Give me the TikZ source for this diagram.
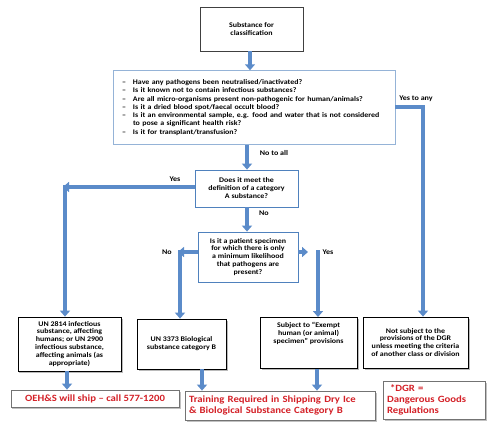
\documentclass[tikz,border=0pt]{standalone}
\usepackage{fontspec}
\setmainfont[FakeStretch=1.12]{Carlito}
\usetikzlibrary{arrows.meta,shadows}
\definecolor{arrowblue}{HTML}{5B8BC9}
\definecolor{lightbord}{HTML}{95B3D7}
\definecolor{midbord}{HTML}{4F81BD}
\definecolor{redtxt}{HTML}{D42027}
\definecolor{darkbord}{HTML}{404040}
\begin{document}
\begin{tikzpicture}[x=1bp,y=-1bp,
  box/.style={draw=darkbord, line width=0.8bp, fill=white, align=center, inner sep=1bp,
    font=\fontsize{7.1}{8}\selectfont\bfseries},
  bluebox/.style={box, draw=midbord},
  shbox/.style={box, draw=black, drop shadow={shadow xshift=1.5bp, shadow yshift=-1.5bp, fill=black!45, opacity=0.6}},
  redbox/.style={draw=black!55, line width=0.8bp, fill=white, align=left, inner sep=3bp,
    text=redtxt, font=\fontsize{9.6}{11}\selectfont\bfseries,
    drop shadow={shadow xshift=1.5bp, shadow yshift=-1.5bp, fill=black!40, opacity=0.6}},
  conn/.style={draw=arrowblue, line width=4bp, -{Triangle[width=10bp,length=6bp]}},
  lbl/.style={font=\fontsize{7.2}{8}\selectfont\bfseries, inner sep=0pt}
]
\useasboundingbox (0,0) rectangle (504,432);
\fill[white] (0,0) rectangle (504,432);

% boxes
\node[box, minimum width=103bp, minimum height=44bp] (top) at (251.5,29) {Substance for\\classification};
\node[box, draw=lightbord, minimum width=282bp, minimum height=71bp, text width=264bp, inner sep=9bp, align=left,
  font=\fontsize{7.1}{8.3}\selectfont\bfseries] (list) at (254,107.5)
  {\makebox[11bp][l]{–}Have any pathogens been neutralised/inactivated?\\
   \makebox[11bp][l]{–}Is it known not to contain infectious substances?\\
   \makebox[11bp][l]{–}Are all micro-organisms present non-pathogenic for human/animals?\\
   \makebox[11bp][l]{–}Is it a dried blood spot/faecal occult blood?\\
   \makebox[11bp][l]{–}Is it an environmental sample, e.g. food and water that is not considered\\
   \hspace*{11bp}to pose a significant health risk?\\
   \makebox[11bp][l]{–}Is it for transplant/transfusion?};
\node[bluebox, minimum width=103bp, minimum height=37bp] (catA) at (246.5,188.5)
  {Does it meet the\\definition of a category\\A substance?};
\node[bluebox, minimum width=100bp, minimum height=50bp] (pat) at (248,257)
  {Is it a patient specimen\\for which there is only\\a minimum likelihood\\that pathogens are\\present?};
\node[shbox, minimum width=103bp, minimum height=54bp] (un2814) at (69.5,344)
  {UN 2814 infectious\\substance, affecting\\humans; or UN 2900\\infectious substance,\\affecting animals (as\\appropriate)};
\node[shbox, minimum width=89bp, minimum height=50bp] (un3373) at (181.5,344)
  {UN 3373 Biological\\substance category B};
\node[shbox, minimum width=97bp, minimum height=51bp, anchor=north] (subj) at (308.5,317)
  {\rule{0pt}{8bp}Subject to ``Exempt\\human (or animal)\\specimen'' provisions\\[14bp]\mbox{}};
\node[shbox, minimum width=105bp, minimum height=51bp] (notsub) at (415.5,342.5)
  {Not subject to the\\provisions of the DGR\\unless meeting the criteria\\of another class or division};
\node[redbox, minimum width=168bp, minimum height=17bp, align=center, inner sep=1bp] (oehs) at (95,398.5)
  {OEH\&S will ship – call 577-1200};
\node[redbox, minimum width=190bp, minimum height=29bp, text width=182bp] (train) at (280,405.5)
  {Training Required in Shipping Dry Ice\\\& Biological Substance Category B};
\node[redbox, minimum width=102bp, minimum height=38bp, text width=94bp] (dgr) at (434,400)
  {\hspace*{3bp}*DGR =\\Dangerous Goods\\Regulations};

% coordinates
\coordinate (yesAny) at (423,107);
\coordinate (yesA) at (63,187);
\coordinate (yesAtop) at (65,185);
\coordinate (noP) at (178,252);
\coordinate (noPtop) at (180,250);
\coordinate (yesP) at (308,252);
\coordinate (yesPtop) at (318,250);

% connectors
\draw[conn] (top.south -| 250,0) -- (list.north -| 250,0);
\draw[conn] (list.south -| 247,0) -- (catA.north -| 247,0);
\draw[conn] (list.east |- yesAny) -- (yesAny) -- (yesAny |- notsub.north);
\draw[conn] (catA.west |- yesA) -- (yesA);
\draw[conn] (yesAtop) -- (yesAtop |- un2814.north);
\draw[conn] (catA.south -| 247,0) -- (pat.north -| 247,0);
\draw[conn] (pat.west |- noP) -- (noP);
\draw[conn] (noPtop) -- (noPtop |- un3373.north);
\draw[conn] (pat.east |- yesP) -- (yesP);
\draw[conn] (yesPtop) -- (yesPtop |- subj.north);
\draw[conn] (un2814.south -| 67,0) -- (oehs.north -| 67,0);
\draw[conn] (un3373.south -| 202,0) -- (train.north -| 202,0);
\draw[conn] (subj.south -| 317,0) -- (train.north -| 317,0);

% labels
\node[lbl] (l1) at (416,99) {Yes to any};
\node[lbl] (l2) at (274,153) {No to all};
\node[lbl] (l3) at (175,179) {Yes};
\node[lbl] (l4) at (264,213) {No};
\node[lbl] (l5) at (167,252) {No};
\node[lbl] (l6) at (328,252) {Yes};
\end{tikzpicture}
\end{document}
